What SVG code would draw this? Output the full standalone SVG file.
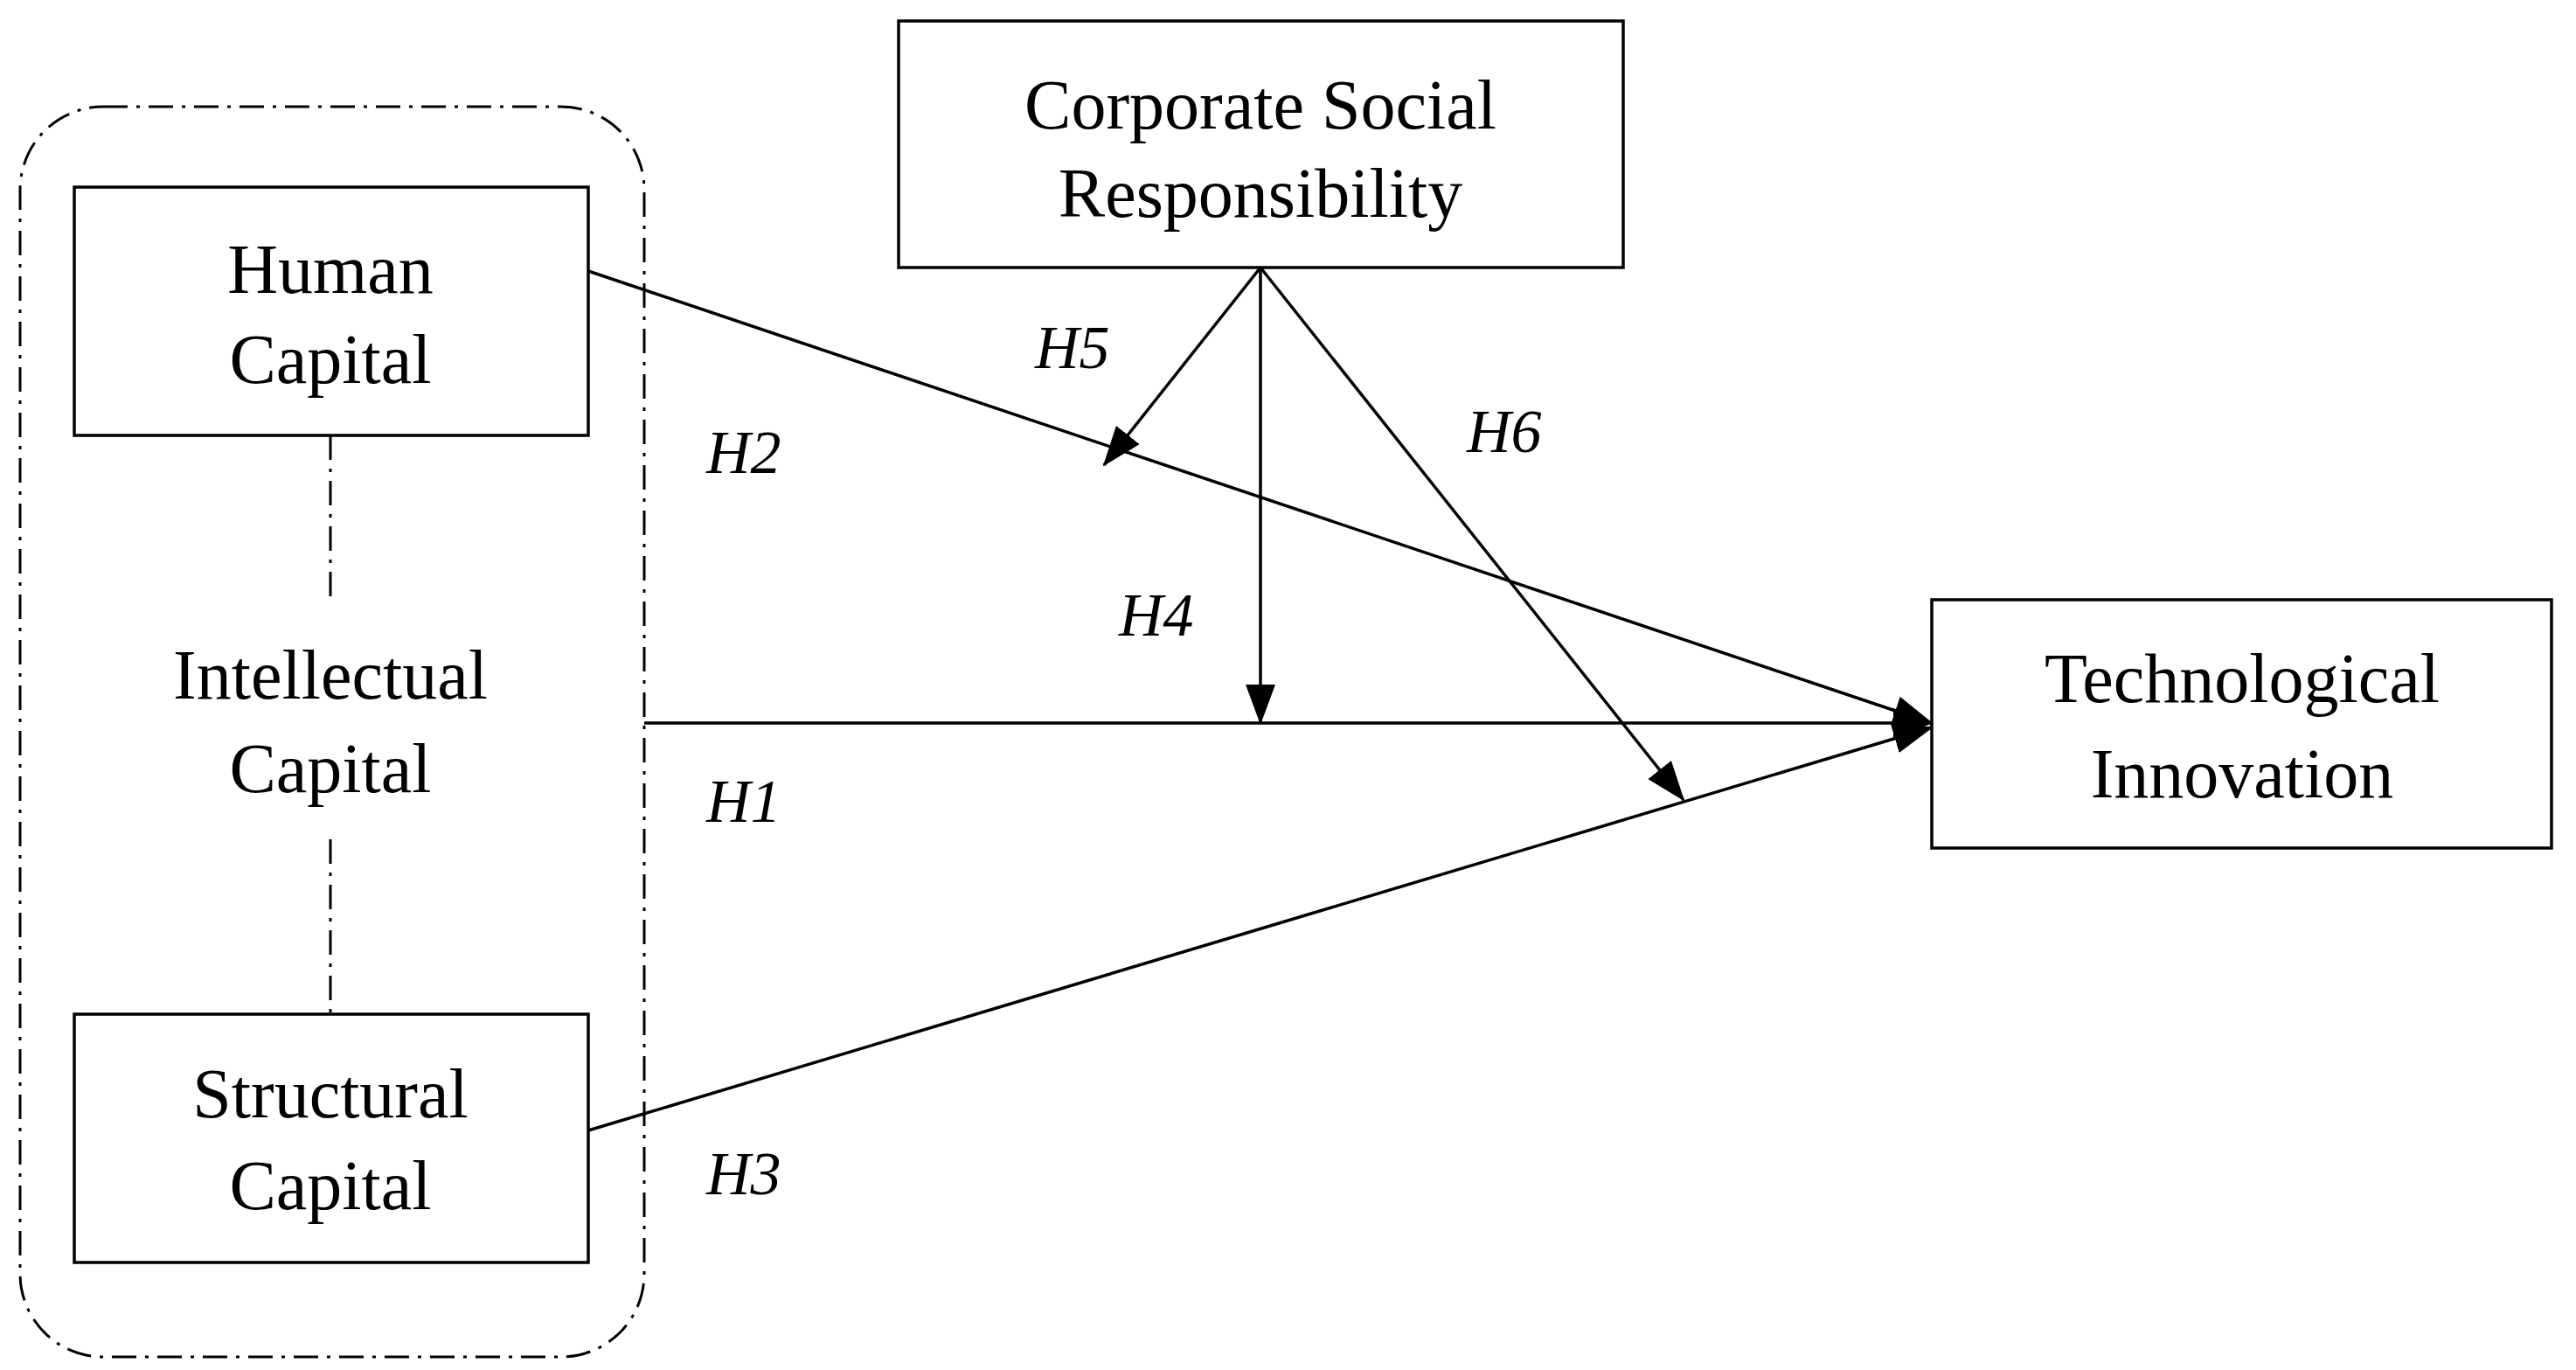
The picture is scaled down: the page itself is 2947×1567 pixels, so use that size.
<svg xmlns="http://www.w3.org/2000/svg" width="2947" height="1567" viewBox="0 0 2947 1567">
<style>
.box{fill:#fff;stroke:#000;stroke-width:3.5}
.t{font-family:"Liberation Serif",serif;font-size:80px;text-anchor:middle;fill:#000}
.h{font-family:"Liberation Serif",serif;font-size:70px;font-style:italic;fill:#000}
.dd{fill:none;stroke:#000;stroke-width:3;stroke-dasharray:28 10 4 10}
.c{stroke:#000;stroke-width:3.5;fill:none}
</style>
<defs>
<marker id="ar" markerUnits="userSpaceOnUse" markerWidth="46" markerHeight="34" refX="44" refY="17" orient="auto">
<path d="M0,0 L46,17 L0,34 Z" fill="#000"/>
</marker>
</defs>
<g id="ic-group">
<rect class="dd" x="23" y="122" width="714" height="1430" rx="95"/>
<line class="dd" x1="378" y1="498" x2="378" y2="690"/>
<line class="dd" x1="378" y1="960" x2="378" y2="1160"/>
<text class="t" x="378" y="799">Intellectual</text>
<text class="t" x="378" y="906">Capital</text>
</g>
<g id="human">
<rect class="box" x="85" y="214" width="588" height="284"/>
<text class="t" x="378" y="335">Human</text>
<text class="t" x="378" y="438">Capital</text>
</g>
<g id="structural">
<rect class="box" x="85" y="1160" width="588" height="284"/>
<text class="t" x="378" y="1278">Structural</text>
<text class="t" x="378" y="1383">Capital</text>
</g>
<g id="csr">
<rect class="box" x="1028" y="24" width="829" height="282"/>
<text class="t" x="1442" y="147">Corporate Social</text>
<text class="t" x="1442" y="248">Responsibility</text>
</g>
<g id="ti">
<rect class="box" x="2210" y="686" width="709" height="284"/>
<text class="t" x="2565" y="803">Technological</text>
<text class="t" x="2565" y="912">Innovation</text>
</g>
<g id="connectors">
<line class="c" x1="737" y1="827" x2="2210" y2="827" marker-end="url(#ar)"/>
<line class="c" x1="673" y1="310" x2="2210" y2="827" marker-end="url(#ar)"/>
<line class="c" x1="673" y1="1293" x2="2210" y2="832" marker-end="url(#ar)"/>
<line class="c" x1="1442" y1="306" x2="1442" y2="827" marker-end="url(#ar)"/>
<line class="c" x1="1442" y1="306" x2="1263" y2="532" marker-end="url(#ar)"/>
<line class="c" x1="1442" y1="306" x2="1926" y2="915" marker-end="url(#ar)"/>
</g>
<g id="labels">
<text class="h" x="1184" y="421">H5</text>
<text class="h" x="808" y="541">H2</text>
<text class="h" x="1678" y="517">H6</text>
<text class="h" x="1280" y="727">H4</text>
<text class="h" x="808" y="940">H1</text>
<text class="h" x="808" y="1366">H3</text>
</g>
</svg>
